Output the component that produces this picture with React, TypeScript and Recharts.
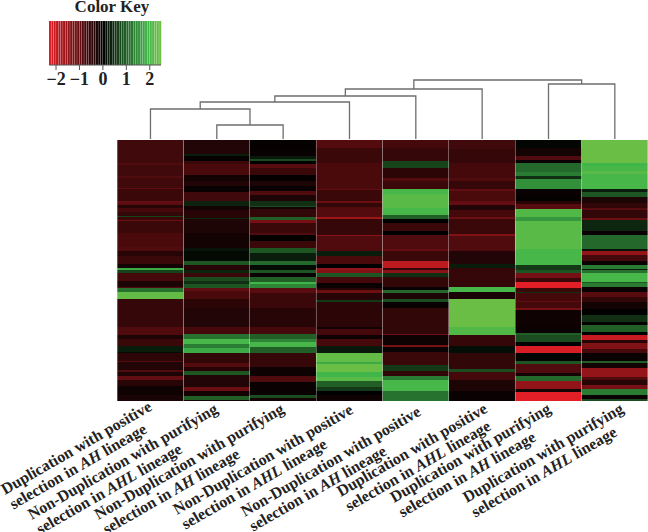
import React from "react";
import { BarChart, Bar, Cell, XAxis, YAxis, ScatterChart, Scatter } from "recharts";

type Run = [number, number];

const LEAF_ROWS = 261;

const lineOne = [
  "Duplication with positive",
  "Non-Duplication with purifying",
  "Non-Duplication with purifying",
  "Non-Duplication with positive",
  "Non-Duplication with positive",
  "Duplication with positive",
  "Duplication with purifying",
  "Duplication with purifying",
];
const lineage = ["AH", "AHL", "AH", "AHL", "AH", "AHL", "AH", "AHL"];

// each run: [row at which the block ends, expression value]
const col0: Run[] = [[23,-.65],[25,-.8],[36,-.65],[38,-.8],[48,-.65],[49,-1.0],[61,-.6],[63,-1.0],[65,-.9],[68,-.4],[72,-.7],[76,-.5],[77,.7],[80,-.6],[81,-1.1],[93,-.6],[107,-.75],[111,-.8],[116,-.4],[124,-.6],[128,-.2],[130,1.8],[133,.7],[141,-.7],[147,-.3],[148,-.8],[152,1.2],[159,2.3],[187,-.55],[195,-.8],[199,-.3],[206,-.6],[212,.3],[213,.1],[221,-.45],[222,-.9],[230,-.35],[232,-.8],[236,-.3],[240,-1],[246,-.4],[255,-.15],[261,-.25]];
const col1: Run[] = [[14,-.35],[16,.3],[21,-.05],[24,-.6],[35,-.75],[41,-.2],[46,-.35],[52,-.1],[61,-.65],[66,.35],[70,-.2],[78,-.4],[79,.4],[93,-.3],[108,-.2],[111,.2],[121,.1],[125,.9],[130,-.4],[133,.4],[137,-.6],[141,.8],[144,.5],[148,.9],[151,-1],[159,-.75],[168,-.45],[187,-.35],[194,-.7],[199,1.2],[204,2.0],[208,1.3],[213,1.8],[223,-.5],[227,-.85],[231,-.4],[235,.9],[247,-.35],[251,-1.1],[256,-.2],[260,1.0],[261,-.2]];
const col2: Run[] = [[11,-.05],[16,-.1],[19,.25],[21,.8],[24,0],[28,-.9],[35,-.6],[41,-.05],[46,-.3],[51,-.1],[55,-.8],[61,-.3],[66,.5],[67,.8],[69,-.2],[77,-.5],[80,1.0],[83,-1.2],[93,-.6],[95,-.8],[101,-.05],[108,-.6],[113,.9],[121,.3],[125,1.1],[130,.1],[133,.9],[137,-.1],[142,1.0],[144,1.9],[148,1.4],[153,-.9],[168,-.6],[187,-.4],[194,-.7],[199,1.0],[202,1.4],[207,2.0],[213,1.0],[227,-.55],[236,-.15],[242,-.8],[255,-.1],[258,.8],[261,-.2]];
const col3: Run[] = [[8,-.85],[23,-.6],[35,-.75],[49,-.75],[50,-1.0],[61,-.6],[63,-1.1],[67,-.5],[77,-.85],[79,-1.6],[95,-.55],[96,-1.4],[111,-.8],[116,.3],[124,-.75],[128,0],[130,-1.5],[133,-1.3],[137,.9],[143,-.7],[148,-.1],[150,-.4],[153,-1.1],[160,-.4],[162,.6],[187,-.45],[189,-.2],[195,-.7],[199,-.15],[206,-.7],[213,.25],[222,2.3],[224,1.8],[232,2.4],[237,1.9],[241,2.2],[247,1.0],[251,.6],[255,0],[261,-.15]];
const col4: Run[] = [[8,-.7],[21,-.55],[28,.7],[38,-.45],[41,-.85],[49,-.6],[54,2.0],[68,2.2],[75,2.0],[79,1.0],[83,0],[91,-.6],[95,0],[109,-.8],[111,-1.0],[121,-.6],[128,-1.9],[130,-.5],[133,-1.4],[137,.5],[147,-.5],[150,-.1],[153,1.1],[159,-.3],[162,.8],[168,-.1],[194,-.5],[195,-1.2],[205,-.15],[207,-1.2],[212,-.1],[225,-.6],[231,.6],[236,-.5],[240,1.3],[251,2.0],[261,1.2]];
const col5: Run[] = [[9,-.65],[23,-.55],[38,-.7],[41,-.8],[49,-.55],[51,-1],[61,-.75],[65,-1.0],[70,-.35],[77,-.7],[79,-1.1],[94,-.6],[96,-1.3],[111,-.8],[124,-.35],[128,.3],[130,-.5],[147,-.55],[152,2.0],[159,-.25],[187,2.4],[195,2.1],[206,-.55],[213,.15],[229,-.5],[232,.8],[240,-.7],[251,-.3],[261,-.1]];
const col6: Run[] = [[8,.05],[16,-.2],[20,-.8],[23,-.1],[32,1.1],[36,1.3],[39,.5],[49,1.5],[55,-.1],[61,-.05],[64,-.4],[69,-.9],[77,2.1],[81,1.6],[109,2.2],[125,2.0],[130,.6],[133,.9],[138,-1.2],[142,-.6],[148,-2.3],[152,-.6],[153,.5],[161,-.7],[162,-1],[168,-.7],[170,-1.2],[187,-.15],[193,-.1],[195,1.0],[202,.8],[206,0],[213,-2.2],[221,.05],[224,.9],[233,-.8],[236,-.2],[241,1.1],[249,-1.5],[252,-.2],[261,-2.4]];
const col7: Run[] = [[23,2.4],[26,1.9],[31,2.0],[34,2.2],[49,2.0],[52,.3],[57,.9],[63,-.3],[68,-.5],[70,-.9],[78,-.5],[80,-1.1],[91,.4],[95,-.1],[109,1.1],[111,.2],[115,-1.5],[121,-.7],[125,-.1],[129,1.3],[130,.3],[133,1.2],[142,2.0],[143,.9],[147,1.3],[152,-.1],[157,-.9],[162,-.5],[169,-.2],[175,0],[182,.5],[185,-.05],[192,1.0],[195,0],[200,-2.0],[203,-.4],[209,-1.3],[213,-.7],[221,-.1],[223,1.0],[228,-.2],[237,-1.5],[240,-.8],[245,-.4],[249,-1.2],[255,1.3],[259,-.1],[261,.8]];
const columns: Run[][] = [col0, col1, col2, col3, col4, col5, col6, col7];

const keyValues = [-2.25,-2.15,-2.05,-1.95,-1.85,-1.75,-1.65,-1.55,-1.45,-1.35,-1.25,-1.15,-1.05,-0.95,-0.85,-0.75,-0.65,-0.55,-0.45,-0.35,-0.25,-0.15,-0.05,0.05,0.15,0.25,0.35,0.45,0.55,0.65,0.75,0.85,0.95,1.05,1.15,1.25,1.35,1.45,1.55,1.65,1.75,1.85,1.95,2.05,2.15,2.25,2.35,2.45];
const keyTicks = [-2, -1, 0, 1, 2];

// dendrogram merges: x in leaf units, y in merge height
const merges: { x: number; y: number }[][] = [
  [{x:1.5,y:0},{x:1.5,y:14},{x:2.5,y:14},{x:2.5,y:0}],
  [{x:0.5,y:0},{x:0.5,y:30},{x:2,y:30},{x:2,y:14}],
  [{x:1.25,y:30},{x:1.25,y:37},{x:3.5,y:37},{x:3.5,y:0}],
  [{x:2.375,y:37},{x:2.375,y:43},{x:4.5,y:43},{x:4.5,y:0}],
  [{x:3.4375,y:43},{x:3.4375,y:50},{x:5.5,y:50},{x:5.5,y:0}],
  [{x:6.5,y:0},{x:6.5,y:55},{x:7.5,y:55},{x:7.5,y:0}],
  [{x:4.47,y:50},{x:4.47,y:59},{x:7,y:59},{x:7,y:55}],
];

const mix = (a: number[], b: number[], t: number) =>
  `rgb(${a.map((c, i) => Math.round(c + (b[i] - c) * t)).join(",")})`;
const colorOf = (v: number) => {
  if (v < 0) return mix([0, 0, 0], [226, 31, 38], Math.min(1, -v / 2.3));
  if (v < 1.9) return mix([0, 0, 0], [63, 181, 74], v / 1.9);
  return mix([63, 181, 74], [114, 191, 68], Math.min(1, (v - 1.9) / 0.58));
};

const heatRows = lineOne.map((name, c) => {
  const row: Record<string, number | string> = { name: `${c}` };
  columns[c].forEach(([end, _v], i) => {
    row[`s${i}`] = end - (i > 0 ? columns[c][i - 1][0] : 0);
  });
  return row;
});
const maxRuns = Math.max(...columns.map((c) => c.length));
const bandKeys = Array.from({ length: maxRuns }, (_, i) => i);
const keyRows = keyValues.map((v) => ({ v, h: 1 }));

const SERIF = "'Liberation Serif', serif";
const labelShift = [-145.5, -185, -185, -172.5, -171, -141.5, -154.5, -148];
const labelDrop = [94, 119, 119, 114, 116, 96, 102, 102];

const LabelTick = (p: any) => {
  const i = Number(p.payload.value);
  return (
    <g transform={`translate(${p.x + labelShift[i]},${p.y + labelDrop[i]}) rotate(-30)`}>
      <text fontFamily={SERIF} fontWeight="bold" fontSize={16} fill="#222">
        <tspan x={0} y={0}>{lineOne[i]}</tspan>
        <tspan x={0} y={17}>selection in </tspan>
        <tspan fontStyle="italic">{lineage[i]}</tspan>
        <tspan> lineage</tspan>
      </text>
    </g>
  );
};

export default function App() {
  return (
    <div style={{ position: "absolute", left: 0, top: 0, width: 648, height: 532, background: "#fff" }}>
      <div style={{ position: "absolute", left: 0, top: 0 }}>
        <BarChart width={648} height={532} data={heatRows} barCategoryGap={0}
          margin={{ top: 140, left: 117.3, right: 0, bottom: 0 }}>
          <XAxis dataKey="name" height={131} interval={0} axisLine={false} tickLine={false} tickSize={0} tickMargin={0} tick={<LabelTick />} />
          <YAxis hide type="number" reversed domain={[0, LEAF_ROWS]} />
          {bandKeys.map((i) => (
            <Bar key={i} dataKey={`s${i}`} stackId="heat" isAnimationActive={false}>
              {columns.map((col, c) => (
                <Cell key={c} fill={colorOf(col[i] ? col[i][1] : 0)} />
              ))}
            </Bar>
          ))}
        </BarChart>
      </div>

      <div style={{ position: "absolute", left: 0, top: 0 }}>
        <ScatterChart width={648} height={140} margin={{ top: 70, left: 117.3, right: 0, bottom: 1 }}>
          <XAxis hide type="number" dataKey="x" domain={[0, 8]} />
          <YAxis hide type="number" dataKey="y" domain={[0, 69]} />
          {merges.map((m, i) => (
            <Scatter key={i} data={m} isAnimationActive={false} line={{ stroke: "#6e6e6e", strokeWidth: 1.3 }} lineType="joint" shape={() => <g />} />
          ))}
        </ScatterChart>
      </div>

      <div style={{ position: "absolute", left: 0, top: 0 }}>
        <BarChart width={170} height={95} data={keyRows} margin={{ top: 21, left: 49, right: 9, bottom: 0 }}>
          <XAxis type="number" dataKey="v" domain={[-2.3, 2.48]} ticks={keyTicks} height={30} interval={0}
            stroke="#555" tickSize={5} tickMargin={2} tickFormatter={(v: number) => `${v}`.replace("-", "\u2212")}
            tick={{ fontFamily: SERIF, fontWeight: "bold", fontSize: 18, fill: "#222" }} />
          <YAxis hide type="number" domain={[0, 1]} />
          <Bar dataKey="h" barSize={3} isAnimationActive={false}>
            {keyValues.map((v, i) => <Cell key={i} fill={colorOf(v)} />)}
          </Bar>
        </BarChart>
      </div>

      <div style={{ position: "absolute", left: 52, top: -3, width: 120, textAlign: "center", fontFamily: SERIF, fontWeight: "bold", fontSize: 17, color: "#222", whiteSpace: "nowrap" }}>
        Color Key
      </div>
    </div>
  );
}
